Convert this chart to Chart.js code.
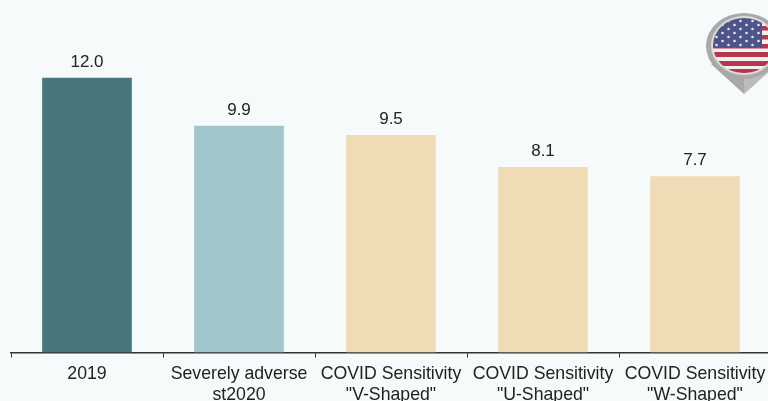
<!DOCTYPE html>
<html>
<head>
<meta charset="utf-8">
<style>
  html, body { margin: 0; padding: 0; width: 768px; height: 401px; overflow: hidden; background: #f6fafb; }
  #wrap { position: relative; width: 768px; height: 401px; overflow: hidden; }
  canvas { position: absolute; left: 0; top: 0; }
  #flag { position: absolute; left: 700px; top: 8px; }
</style>
<script src="https://cdn.jsdelivr.net/npm/chart.js@4"></script>
</head>
<body>
<div id="wrap">
  <canvas id="chart" width="790" height="412" style="width:790px;height:412px"></canvas>
  <svg id="flag" width="68" height="90" viewBox="700 8 68 90">
    <defs>
      <clipPath id="disc"><ellipse cx="744" cy="45.5" rx="31" ry="27.5"/></clipPath>
      <pattern id="stars" x="714" y="19" width="12" height="8" patternUnits="userSpaceOnUse">
        <circle cx="2.5" cy="2" r="1.3" fill="#e4e6f2"/>
        <circle cx="8.5" cy="6" r="1.3" fill="#e4e6f2"/>
      </pattern>
    </defs>
    <path d="M711 64 L744 94 L777 64 Z" fill="#a8a8a8"/>
    <path d="M744 94 L744 72 L777 64 Z" fill="#bcbcbc"/>
    <ellipse cx="744" cy="46" rx="38" ry="33" fill="#a9a9a9"/>
    <ellipse cx="744" cy="45.5" rx="33" ry="29.5" fill="#dcdcdc"/>
    <g clip-path="url(#disc)">
      <rect x="710" y="16" width="70" height="60" fill="#f4f1f1"/>
      <rect x="710" y="26" width="70" height="4.5" fill="#b5394a"/>
      <rect x="710" y="35" width="70" height="4.5" fill="#b5394a"/>
      <rect x="710" y="44" width="70" height="4.5" fill="#b5394a"/>
      <rect x="710" y="52" width="70" height="5" fill="#b5394a"/>
      <rect x="710" y="61" width="70" height="5" fill="#b5394a"/>
      <rect x="710" y="69" width="70" height="5" fill="#b5394a"/>
      <rect x="710" y="16" width="52" height="32" fill="#4c5489"/>
      <rect x="710" y="16" width="52" height="32" fill="url(#stars)"/>
    </g>
  </svg>
</div>
<script>
const categories = [
  '2019',
  ['Severely adverse', 'st2020'],
  ['COVID Sensitivity', '"V-Shaped"'],
  ['COVID Sensitivity', '"U-Shaped"'],
  ['COVID Sensitivity', '"W-Shaped"']
];
const values = [12.0, 9.9, 9.5, 8.1, 7.7];
const barColors = ['#47777d', '#a0c5ca', '#efdcb4', '#efdcb4', '#efdcb4'];

const textColor = '#222222';
const fontFamily = '"Liberation Sans", Arial, sans-serif';

// value labels sit just above each bar
const valueLabels = {
  id: 'valueLabels',
  afterDatasetsDraw(chart) {
    const ctx = chart.ctx;
    const meta = chart.getDatasetMeta(0);
    ctx.save();
    ctx.fillStyle = textColor;
    ctx.font = '17px ' + fontFamily;
    ctx.textAlign = 'center';
    ctx.textBaseline = 'alphabetic';
    meta.data.forEach((bar, i) => {
      ctx.fillText(values[i].toFixed(1), bar.x, bar.y - 11);
    });
    ctx.restore();
  }
};

new Chart(document.getElementById('chart'), {
  type: 'bar',
  data: {
    labels: categories,
    datasets: [{
      data: values,
      backgroundColor: barColors,
      borderWidth: 0,
      categoryPercentage: 1,
      barPercentage: 0.59
    }]
  },
  options: {
    responsive: false,
    animation: false,
    layout: { padding: { left: 11, right: 19, top: 9, bottom: 0 } },
    plugins: { legend: { display: false }, tooltip: { enabled: false } },
    scales: {
      x: {
        offset: true,
        border: { display: true, color: '#333333', width: 1.5 },
        grid: {
          display: true,
          offset: true,
          drawOnChartArea: false,
          drawTicks: true,
          tickLength: 5,
          tickColor: '#333333'
        },
        ticks: {
          color: textColor,
          padding: 6,
          maxRotation: 0,
          autoSkip: false,
          font: { family: fontFamily, size: 17.7, lineHeight: 1.2 }
        }
      },
      y: { display: false, min: 0, max: 15 }
    }
  },
  plugins: [valueLabels]
});
</script>
</body>
</html>
